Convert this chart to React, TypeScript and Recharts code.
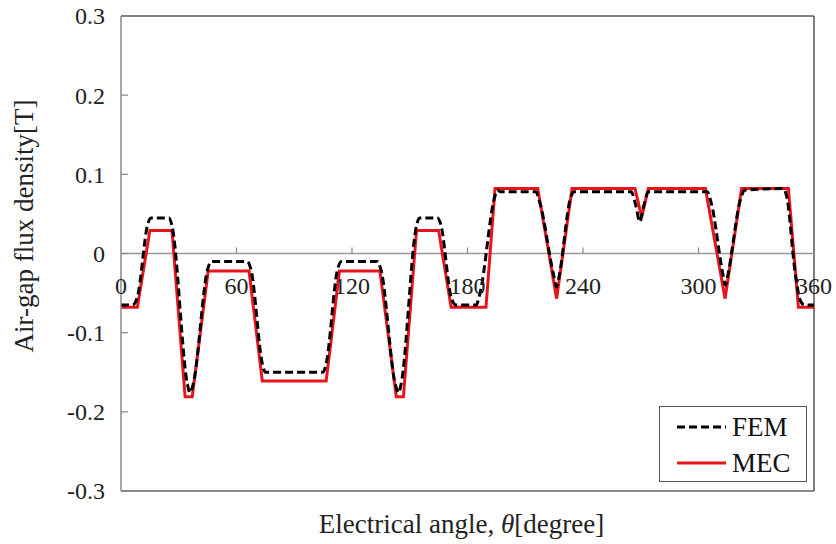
import { LineChart, Line, XAxis, YAxis, ReferenceLine, Legend } from 'recharts';

// MEC: piecewise linear model
const mecAngle = [0, 8.5, 15, 26.5, 33.3, 37, 45.3, 66.5, 73.4, 106.6, 113.5, 134.5, 143, 146.7, 153.5, 165, 171.5, 189.6, 194.3, 216.5, 226.3, 234.3, 267, 270.5, 273.9, 303.6, 313.8, 322.4, 346.7, 351.9, 360];
const mecValue = [-0.068, -0.068, 0.029, 0.029, -0.181, -0.181, -0.022, -0.022, -0.161, -0.161, -0.022, -0.022, -0.181, -0.181, 0.029, 0.029, -0.068, -0.068, 0.082, 0.082, -0.057, 0.082, 0.082, 0.046, 0.082, 0.082, -0.057, 0.082, 0.082, -0.068, -0.068];

// FEM: smoother result
const femAngle = [0, 6, 8.5, 14, 15.5, 25, 26.5, 34.5, 35.8, 37.5, 45, 47, 65.5, 67.5, 73.5, 75, 105, 106.5, 112.5, 114.5, 133, 135, 142.5, 144.2, 145.5, 153.5, 155, 164.5, 166, 171.5, 174, 184.5, 186.5, 194, 195.5, 197, 215.5, 217.5, 225, 226.3, 227.5, 233.5, 235.5, 265, 267.5, 269.5, 271.5, 274, 304.5, 306.5, 313, 314, 315, 322, 324, 344, 346, 350, 353, 355, 360];
const femValue = [-0.065, -0.065, -0.055, 0.038, 0.045, 0.045, 0.035, -0.165, -0.176, -0.165, -0.02, -0.01, -0.01, -0.02, -0.14, -0.15, -0.15, -0.14, -0.02, -0.01, -0.01, -0.02, -0.165, -0.176, -0.165, 0.035, 0.045, 0.045, 0.038, -0.055, -0.065, -0.065, -0.05, 0.07, 0.08, 0.078, 0.078, 0.065, -0.03, -0.042, -0.03, 0.07, 0.078, 0.078, 0.06, 0.04, 0.06, 0.078, 0.078, 0.065, -0.03, -0.04, -0.03, 0.07, 0.08, 0.082, 0.07, -0.02, -0.06, -0.065, -0.065];

const xTicks = [0, 60, 120, 180, 240, 300, 360];
const yTicks = [-0.3, -0.2, -0.1, 0, 0.1, 0.2, 0.3];

const seriesList = [
  { name: 'FEM', color: '#000000', dash: '8 4' },
  { name: 'MEC', color: '#e8141c', dash: undefined },
];

const mecData = mecAngle.map((a, i) => ({ angle: a, value: mecValue[i] }));
const femData = femAngle.map((a, i) => ({ angle: a, value: femValue[i] }));

const W = 836;
const H = 544;
const PLOT_LEFT = 121;
const PLOT_TOP = 16;
const PLOT_RIGHT = 814;
const PLOT_BOTTOM = 491;
const ZERO_Y = (PLOT_TOP + PLOT_BOTTOM) / 2;
const FONT = "'Liberation Serif', 'DejaVu Serif', serif";

const XTick = (props: any) => {
  const { x, payload } = props;
  return (
    <g>
      {payload.value !== 0 && payload.value !== 360 && (
        <line x1={x} x2={x} y1={ZERO_Y - 6} y2={ZERO_Y} stroke="#888" strokeWidth={1.2} />
      )}
      <text x={x} y={ZERO_Y + 40} textAnchor="middle" fontFamily={FONT} fontSize={24} fill="#222">
        {payload.value}
      </text>
    </g>
  );
};

const YTick = (props: any) => {
  const { y, payload } = props;
  return (
    <g>
      <line x1={PLOT_LEFT} x2={PLOT_LEFT + 7} y1={y} y2={y} stroke="#888" strokeWidth={1.2} />
      <text x={PLOT_LEFT - 16} y={y} dy="0.35em" textAnchor="end" fontFamily={FONT} fontSize={24} fill="#222">
        {payload.value}
      </text>
    </g>
  );
};

const renderLegend = () => (
  <div
    style={{
      width: 148,
      height: 76,
      border: '1.5px solid #555',
      background: '#fff',
      boxSizing: 'border-box',
      fontFamily: FONT,
      fontSize: 27,
      color: '#111',
      paddingTop: 2,
    }}
  >
    {seriesList.map((s) => (
      <div key={s.name} style={{ display: 'flex', alignItems: 'center', height: 36 }}>
        <svg width={70} height={10} style={{ marginRight: 2 }}>
          <line x1={17} x2={66} y1={5} y2={5} stroke={s.color} strokeWidth={3} strokeDasharray={s.dash} />
        </svg>
        <span style={{ lineHeight: 1 }}>{s.name}</span>
      </div>
    ))}
  </div>
);

export default function App() {
  return (
    <div style={{ position: 'absolute', left: 0, top: 0, width: W, height: H, background: '#fff' }}>
      <LineChart
        width={W}
        height={H}
        margin={{ top: PLOT_TOP, right: W - PLOT_RIGHT, bottom: 0, left: 0 }}
      >
        <XAxis
          type="number"
          dataKey="angle"
          domain={[0, 360]}
          ticks={xTicks}
          height={H - PLOT_BOTTOM}
          axisLine={false}
          tickLine={false}
          tick={<XTick />}
          interval={0}
          allowDataOverflow
        />
        <YAxis
          type="number"
          domain={[-0.3, 0.3]}
          ticks={yTicks}
          width={PLOT_LEFT}
          axisLine={{ stroke: '#888', strokeWidth: 1.5 }}
          tickLine={false}
          tick={<YTick />}
          interval={0}
          allowDataOverflow
        />
        <ReferenceLine y={0.3} stroke="#555" strokeWidth={1.5} />
        <ReferenceLine y={-0.3} stroke="#666" strokeWidth={1.5} />
        <ReferenceLine x={360} stroke="#555" strokeWidth={1.5} />
        <ReferenceLine y={0} stroke="#999" strokeWidth={1.5} />
        <Line
          data={mecData}
          dataKey="value"
          name="MEC"
          type="linear"
          stroke="#e8141c"
          strokeWidth={3}
          dot={false}
          isAnimationActive={false}
        />
        <Line
          data={femData}
          dataKey="value"
          name="FEM"
          type="monotone"
          stroke="#000"
          strokeWidth={3}
          strokeDasharray="8 4"
          dot={false}
          isAnimationActive={false}
        />
        <Legend
          layout="horizontal"
          verticalAlign="middle"
          align="center"
          content={renderLegend}
          wrapperStyle={{ position: 'absolute', left: 659, top: 406, width: 148, height: 76 }}
        />
        <text x={(PLOT_LEFT + PLOT_RIGHT) / 2 - 6} y={533} textAnchor="middle" fontFamily={FONT} fontSize={27} fill="#222">
          Electrical angle, <tspan fontStyle="italic">θ</tspan>[degree]
        </text>
        <text
          x={0}
          y={0}
          transform={`translate(33, 226) rotate(-90)`}
          textAnchor="middle"
          fontFamily={FONT}
          fontSize={27}
          fill="#222"
        >
          Air-gap flux density[T]
        </text>
      </LineChart>
    </div>
  );
}
